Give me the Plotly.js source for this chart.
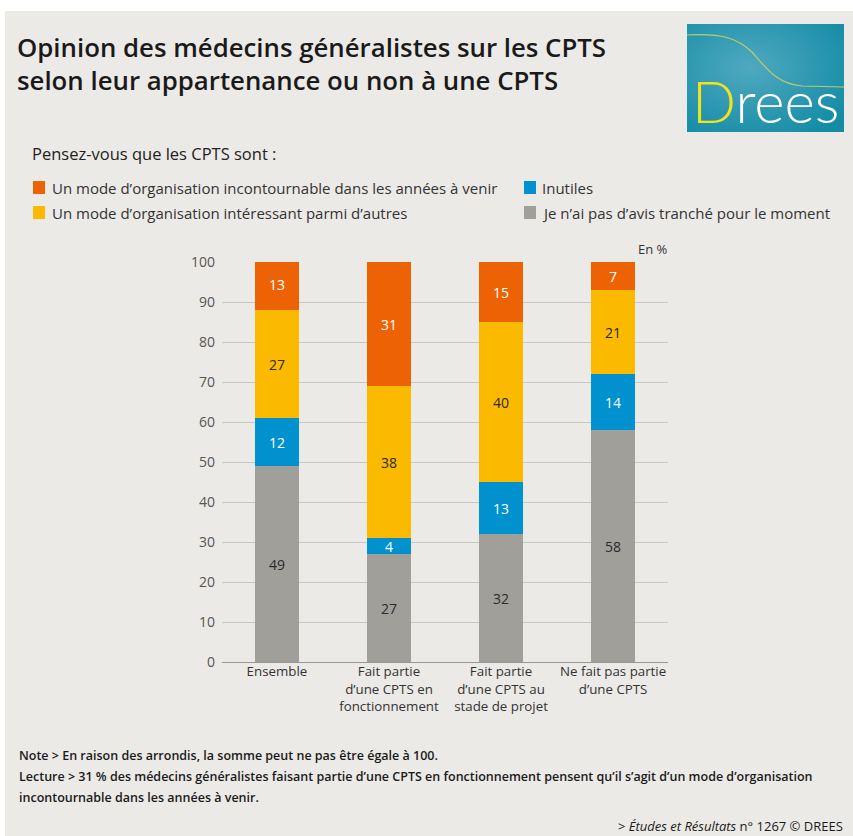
<!DOCTYPE html>
<html>
<head>
<meta charset="utf-8">
<script src="https://cdn.plot.ly/plotly-3.0.1.min.js"></script>
<style>
html,body{margin:0;padding:0;background:#ffffff;}
#chart{position:absolute;left:5px;top:11px;width:848px;height:825px;}
</style>
</head>
<body>
<div id="chart"></div>
<script>
// ---- Data ----
const categories = ["Ensemble", "Fait partie<br>d’une CPTS en<br>fonctionnement", "Fait partie<br>d’une CPTS au<br>stade de projet", "Ne fait pas partie<br>d’une CPTS"];
const seriesNames = [
  "Je n’ai pas d’avis tranché pour le moment",
  "Inutiles",
  "Un mode d’organisation intéressant parmi d’autres",
  "Un mode d’organisation incontournable dans les années à venir"
];
const sansAvis = [49, 27, 32, 58];
const inutiles = [12, 4, 13, 14];
const interessant = [27, 38, 40, 21];
const incontournable = [13, 31, 15, 7];
const yTicks = [0, 10, 20, 30, 40, 50, 60, 70, 80, 90, 100];

// ---- Styles ----
const colors = ["#A09F9A", "#0091CE", "#FBB900", "#EC6205"];
const textColors = ["#2b2b2b", "#ffffff", "#2b2b2b", "#ffffff"];
const values = [sansAvis, inutiles, interessant, incontournable];
const xIdx = categories.map((c, i) => i);

// pixel (image) -> paper conversion; plot area x 222..668, y 262..662
const X0 = 222, X1 = 668, Y0 = 262, Y1 = 662;
const px = x => (x - X0) / (X1 - X0);
const py = y => (Y1 - y) / (Y1 - Y0);

const fontMain = "Open Sans, sans-serif";

const traces = values.map((v, k) => ({
  type: "bar",
  name: seriesNames[k],
  x: xIdx,
  y: v,
  text: v.map(String),
  textposition: "inside",
  insidetextanchor: "middle",
  textangle: 0,
  constraintext: "none",
  textfont: {family: fontMain, size: 14, color: textColors[k]},
  marker: {color: colors[k], line: {width: 0}},
  width: 0.39,
  hoverinfo: "skip",
  showlegend: false
}));

const annotations = [];
function ann(text, x, y, opts) {
  annotations.push(Object.assign({
    text: text, xref: "paper", yref: "paper", x: px(x), y: py(y),
    xanchor: "left", yanchor: "middle", showarrow: false,
    font: {family: fontMain, size: 13, color: "#333333"}
  }, opts || {}));
}
// Title
const titleFont = {family: fontMain, size: 25.8, color: "#1a1a1a", weight: 600};
ann("Opinion des médecins généralistes sur les CPTS", 15, 47, {font: titleFont});
ann("selon leur appartenance ou non à une CPTS", 15, 80, {font: titleFont});
// Question
ann("Pensez-vous que les CPTS sont :", 30, 153, {font: {family: fontMain, size: 16.5, color: "#222222"}});
// Legend texts
const legFont = {family: fontMain, size: 15, color: "#333333"};
ann(seriesNames[3], 50, 188, {font: legFont});
ann(seriesNames[2], 50, 213, {font: legFont});
ann(seriesNames[1], 540, 188, {font: legFont});
ann(seriesNames[0], 540, 213, {font: legFont});
// En %
ann("En %", 670, 249, {xanchor: "right", font: {family: fontMain, size: 13, color: "#333333"}});
// Notes
const noteFont = {family: fontMain, size: 12.5, color: "#1a1a1a", weight: 600};
ann("Note > En raison des arrondis, la somme peut ne pas être égale à 100.", 17, 755, {font: noteFont});
ann("Lecture > 31 % des médecins généralistes faisant partie d’une CPTS en fonctionnement pensent qu’il s’agit d’un mode d’organisation", 17, 776, {font: noteFont});
ann("incontournable dans les années à venir.", 17, 797, {font: noteFont});
ann("> <i>Études et Résultats</i> n° 1267 © DREES", 845, 826, {xanchor: "right", font: {family: fontMain, size: 13, color: "#1a1a1a"}});
// Logo text
ann("<span style='color:#F3E31C'>D</span>rees", 765, 101, {xanchor: "center", font: {family: "Lato, Open Sans, sans-serif", size: 58, color: "#ffffff", weight: 300}});

// Legend squares
const shapes = [];
function sq(x, y, c) {
  shapes.push({type: "rect", xref: "paper", yref: "paper", x0: px(x), x1: px(x + 12), y0: py(y + 13), y1: py(y), fillcolor: c, line: {width: 0}});
}
sq(33, 181, colors[3]);
sq(33, 206, colors[2]);
sq(524, 181, colors[1]);
sq(524, 206, colors[0]);

// Logo background (gradient + curve)
const svg = "<svg xmlns='http://www.w3.org/2000/svg' width='157' height='108' viewBox='0 0 157 108' preserveAspectRatio='none'>" +
  "<defs><radialGradient id='g' cx='0.4' cy='0.4' r='0.75'><stop offset='0' stop-color='#4FA9BF'/><stop offset='1' stop-color='#138BA5'/></radialGradient></defs>" +
  "<rect width='157' height='108' fill='url(#g)'/>" +
  "<path d='M0,11 C35,9 50,14 65,28 C80,45 90,60 115,62 L157,63' fill='none' stroke='#BFCB6A' stroke-width='1.2'/></svg>";
const images = [{
  source: "data:image/svg+xml;charset=utf-8," + encodeURIComponent(svg),
  xref: "paper", yref: "paper", x: px(687), y: py(24),
  sizex: px(844) - px(687), sizey: py(24) - py(132),
  xanchor: "left", yanchor: "top", sizing: "stretch", layer: "below"
}];

const layout = {
  width: 848, height: 825,
  margin: {l: X0 - 5, r: 848 - (X1 - 5), t: Y0 - 11, b: 825 - (Y1 - 11), pad: 0},
  paper_bgcolor: "#ECEAE7",
  plot_bgcolor: "#ECEAE7",
  barmode: "stack",
  showlegend: false,
  font: {family: fontMain, color: "#333333"},
  xaxis: {
    range: [-0.49, 3.49],
    tickvals: xIdx,
    ticktext: categories,
    showgrid: false, zeroline: false, showline: false, ticks: "",
    tickfont: {family: fontMain, size: 13.3, color: "#333333"},
    fixedrange: true
  },
  yaxis: {
    range: [0, 100],
    tickvals: yTicks,
    ticktext: yTicks.map(String),
    showgrid: true, gridcolor: "#CBC9C5", gridwidth: 1,
    zeroline: true, zerolinecolor: "#9a9894", zerolinewidth: 1,
    showline: false, ticks: "",
    ticklabelstandoff: 6,
    tickfont: {family: fontMain, size: 14, color: "#555555"},
    fixedrange: true
  },
  annotations: annotations,
  shapes: shapes,
  images: images
};

Plotly.newPlot("chart", traces, layout, {displayModeBar: false, staticPlot: true});
</script>
</body>
</html>
